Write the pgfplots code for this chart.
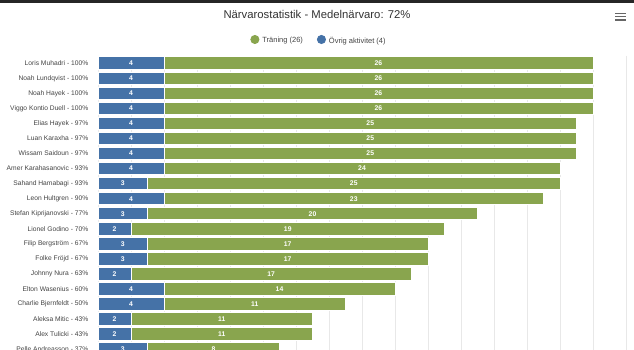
\documentclass[border=0pt]{standalone}
\usepackage{pgfplots}
\pgfplotsset{compat=1.18}
\usepackage{pgfplotstable}
\usepackage{fontspec}
\setmainfont{Liberation Sans}
\definecolor{blueC}{HTML}{4572A7}
\definecolor{greenC}{HTML}{89A54E}
\definecolor{gridC}{HTML}{E8E8E8}
\definecolor{labC}{HTML}{444444}
\definecolor{titleC}{HTML}{333333}
\pgfplotstableread{
b g
4 26
4 26
4 26
4 26
4 25
4 25
4 25
4 24
3 25
4 23
3 20
2 19
3 17
3 17
2 17
4 14
4 11
2 11
2 11
3 8
}\datatable
\begin{document}
\begin{tikzpicture}
\clip (0,0) rectangle (634bp,-350bp);
\fill[white] (0,0) rectangle (634bp,-350bp);
\fill[black!85] (0,0) rectangle (634bp,-3bp);
\node[font=\fontsize{11.3bp}{13bp}\selectfont, text=titleC] at (317bp,-14bp) {Närvarostatistik - Medelnärvaro: 72\%};
\foreach \yy in {13.3,16.7,20} \draw[line width=1.3bp, black!60] (615bp,-\yy bp) -- (625.5bp,-\yy bp);
\begin{axis}[
  at={(98bp,-55.7bp)}, anchor=north west,
  scale only axis, width=528bp, height=316.05bp,
  xmin=0, xmax=32, ymin=-0.5, ymax=20.5, y dir=reverse,
  xbar stacked, bar width=12.5bp,
  xtick={0,2,...,32}, xticklabels={},
  xmajorgrids, grid style={draw=gridC, line width=0.8bp},
  axis line style={draw=none}, major tick length=0pt,
  ytick={0,...,19},
  yticklabels={Loris Muhadri - 100\%, Noah Lundqvist - 100\%, Noah Hayek - 100\%, Viggo Kontio Duell - 100\%, Elias Hayek - 97\%, Luan Karaxha - 97\%, Wissam Saidoun - 97\%, Amer Karahasanovic - 93\%, Sahand Hamabagi - 93\%, Leon Hultgren - 90\%, Stefan Kiprijanovski - 77\%, Lionel Godino - 70\%, Filip Bergström - 67\%, Folke Fröjd - 67\%, Johnny Nura - 63\%, Elton Wasenius - 60\%, Charlie Bjernfeldt - 50\%, Aleksa Mitic - 43\%, Alex Tulicki - 43\%, Pelle Andreasson - 37\%},
  yticklabel style={font=\fontsize{6.7bp}{8bp}\selectfont, text=labC, inner sep=0pt, xshift=-9.5bp},
  legend columns=2, reverse legend,
  legend style={at={(axis description cs:0.41856,1.0475)}, anchor=center, draw=none, fill=none,
    font=\fontsize{7.5bp}{9bp}\selectfont, text=labC,
    /tikz/every odd column/.style={column sep=1bp},
    /tikz/every even column/.style={column sep=12bp}},
]
\addplot[fill=blueC, draw=white, line width=1bp,
  legend image code/.code={\fill[blueC] (0bp,1.2bp) circle (4bp);}]
  table[x=b, y expr=\coordindex] {\datatable};
\addlegendentry{Övrig aktivitet (4)}
\addplot[fill=greenC, draw=white, line width=1bp,
  legend image code/.code={\fill[greenC] (0bp,1.2bp) circle (4bp);}]
  table[x=g, y expr=\coordindex] {\datatable};
\addlegendentry{Träning (26)}
\end{axis}
\begin{axis}[
  at={(98bp,-55.7bp)}, anchor=north west,
  scale only axis, width=528bp, height=316.05bp,
  xmin=0, xmax=32, ymin=-0.5, ymax=20.5, y dir=reverse,
  hide axis, clip=false,
  /pgf/number format/assume math mode=true,
  nodes near coords style={anchor=center, text=white, inner sep=0pt, font=\fontsize{6.8bp}{8bp}\selectfont\bfseries},
]
\addplot[draw=none, nodes near coords, point meta=explicit]
  table[x expr=\thisrow{b}/2, y expr=\coordindex, meta=b] {\datatable};
\addplot[draw=none, nodes near coords, point meta=explicit]
  table[x expr=\thisrow{b}+\thisrow{g}/2, y expr=\coordindex, meta=g] {\datatable};
\end{axis}
\end{tikzpicture}
\end{document}
